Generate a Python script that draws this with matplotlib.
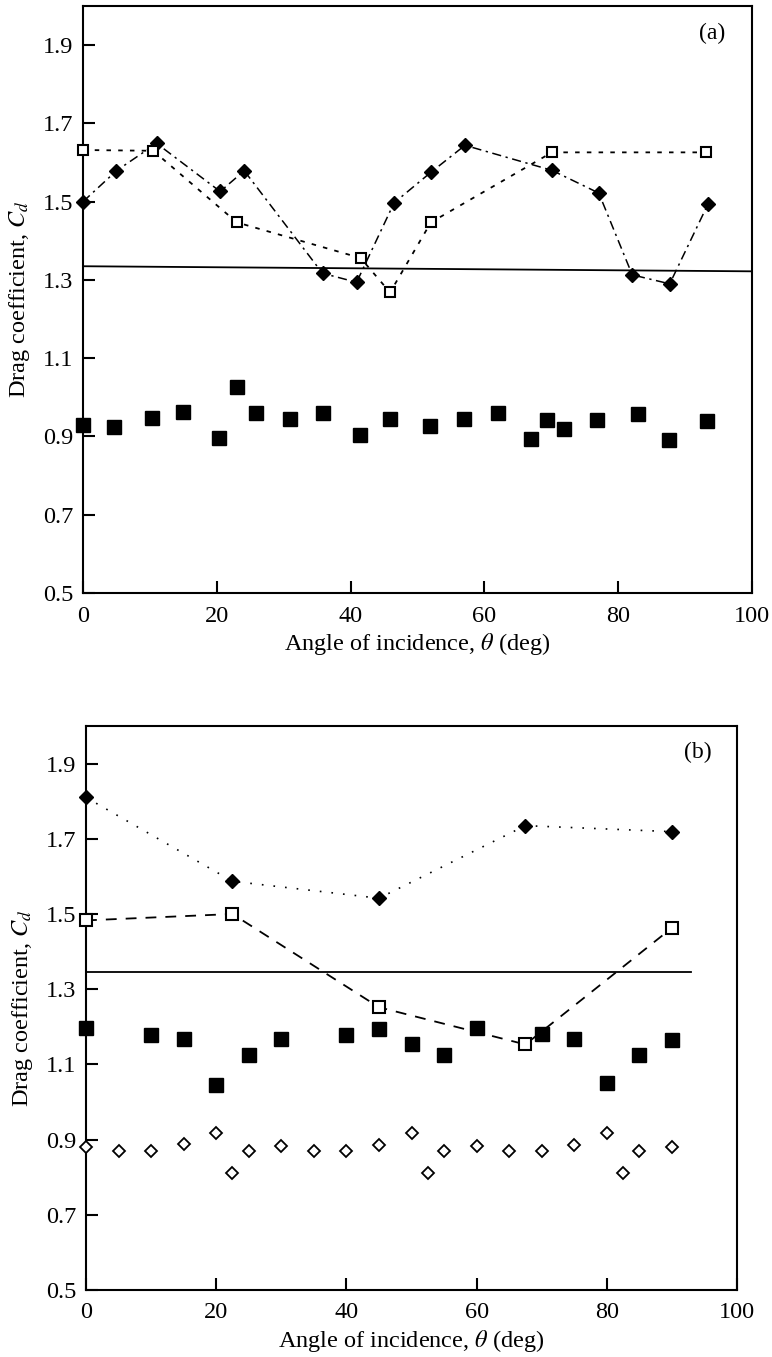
import matplotlib.pyplot as plt

plt.rcParams['font.family'] = ['Liberation Serif', 'DejaVu Serif']
plt.rcParams['mathtext.fontset'] = 'stix'

# (a) datos
a_dia_x = [0, 5.0, 11.0, 20.5, 24.1, 35.8, 40.9, 46.5, 52.0, 57.1, 70.1, 77.1, 82.1, 87.7, 93.4]
a_dia_y = [1.500, 1.579, 1.649, 1.526, 1.579, 1.317, 1.294, 1.497, 1.575, 1.644, 1.580, 1.522, 1.313, 1.290, 1.493]
a_osq_x = [0, 10.5, 23.0, 41.5, 45.9, 52.0, 70.1, 93.1]
a_osq_y = [1.632, 1.630, 1.447, 1.356, 1.268, 1.447, 1.626, 1.626]
a_sq_x = [0, 4.7, 10.3, 14.9, 20.3, 23.0, 25.9, 30.9, 35.8, 41.4, 45.9,
          51.9, 56.9, 62.0, 66.9, 69.4, 71.9, 76.9, 83.0, 87.6, 93.2]
a_sq_y = [0.930, 0.924, 0.947, 0.962, 0.897, 1.026, 0.961, 0.945, 0.959, 0.904, 0.944,
          0.927, 0.944, 0.959, 0.893, 0.942, 0.919, 0.942, 0.957, 0.892, 0.940]
a_ref_x = [0, 100]
a_ref_y = [1.335, 1.322]

# (b) datos
b_dia_x = [0, 22.5, 45, 67.5, 90]
b_dia_y = [1.810, 1.587, 1.542, 1.735, 1.719]
b_osq_x = [0, 22.5, 45, 67.5, 90]
b_osq_y = [1.483, 1.500, 1.252, 1.153, 1.463]
b_sq_x = [0, 10, 15, 20, 25, 30, 40, 45, 50, 55, 60, 70, 75, 80, 85, 90]
b_sq_y = [1.197, 1.179, 1.167, 1.044, 1.126, 1.167, 1.179, 1.193,
          1.155, 1.126, 1.198, 1.180, 1.168, 1.051, 1.126, 1.166]
b_odia_x = [0, 5, 10, 15, 20, 22.5, 25, 30, 35, 40, 45, 50, 52.5, 55, 60, 65, 70, 75, 80, 82.5, 85, 90]
b_odia_y = [0.880, 0.871, 0.871, 0.887, 0.918, 0.811, 0.871, 0.882, 0.871, 0.869, 0.886,
            0.917, 0.811, 0.869, 0.882, 0.871, 0.871, 0.886, 0.918, 0.811, 0.869, 0.880]
b_ref_x = [0, 93]
b_ref_y = [1.346, 1.346]

yticks = [0.5, 0.7, 0.9, 1.1, 1.3, 1.5, 1.7, 1.9]
xticks = [0, 20, 40, 60, 80, 100]

fig = plt.figure(figsize=(7.72, 13.57), dpi=100)
ax1 = fig.add_axes([83 / 772, 1 - 593 / 1357, (752 - 83) / 772, (593 - 6) / 1357])
ax2 = fig.add_axes([86 / 772, 1 - 1290 / 1357, (737 - 86) / 772, (1290 - 726) / 1357])


def style_axes(ax, label):
    ax.set_xlim(0, 100)
    ax.set_ylim(0.5, 2.0)
    ax.set_xticks(xticks)
    ax.set_yticks(yticks)
    ax.set_yticklabels(['%.1f' % v for v in yticks])
    ax.tick_params(direction='in', length=8.5, width=1.5, labelsize=17.5,
                   top=False, right=False)
    ax.tick_params(axis='x', pad=9)
    ax.tick_params(axis='y', pad=7)
    for s in ax.spines.values():
        s.set_linewidth(1.5)
    ax.set_xlabel(r'Angle of incidence, $\theta$ (deg)', fontsize=17.5, labelpad=3)
    ax.set_ylabel(r'Drag coefficient, $C_d$', fontsize=17.5, labelpad=8)
    ax.text(0.94, 0.953, label, transform=ax.transAxes, fontsize=17,
            ha='center', va='center')


# (a)
ax1.plot(a_ref_x, a_ref_y, color='black', lw=1.3)
ax1.plot(a_dia_x, a_dia_y, color='black', lw=1.1, ls=(0, (6, 3, 1.5, 3)),
         marker='D', ms=7, mfc='black', mec='black', clip_on=False, zorder=3)
ax1.plot(a_osq_x, a_osq_y, color='black', lw=1.3, ls=(0, (2.5, 4)),
         marker='s', ms=7.5, mfc='white', mec='black', mew=1.5, clip_on=False, zorder=4)
ax1.plot(a_sq_x, a_sq_y, ls='none', marker='s', ms=9.5, mfc='black', mec='black',
         clip_on=False, zorder=4)
style_axes(ax1, '(a)')

# (b)
ax2.plot(b_ref_x, b_ref_y, color='black', lw=1.3)
ax2.plot(b_dia_x, b_dia_y, color='black', lw=1.2, ls=(0, (1, 6)),
         marker='D', ms=7, mfc='black', mec='black', clip_on=False, zorder=3)
ax2.plot(b_osq_x, b_osq_y, color='black', lw=1.3, ls=(0, (6, 5)),
         marker='s', ms=8, mfc='white', mec='black', mew=1.5, clip_on=False, zorder=4)
ax2.plot(b_sq_x, b_sq_y, ls='none', marker='s', ms=10, mfc='black', mec='black',
         clip_on=False, zorder=4)
ax2.plot(b_odia_x, b_odia_y, ls='none', marker='D', ms=6, mfc='white', mec='black',
         mew=1.3, clip_on=False, zorder=4)
style_axes(ax2, '(b)')

fig.savefig('out.png', dpi=100)
